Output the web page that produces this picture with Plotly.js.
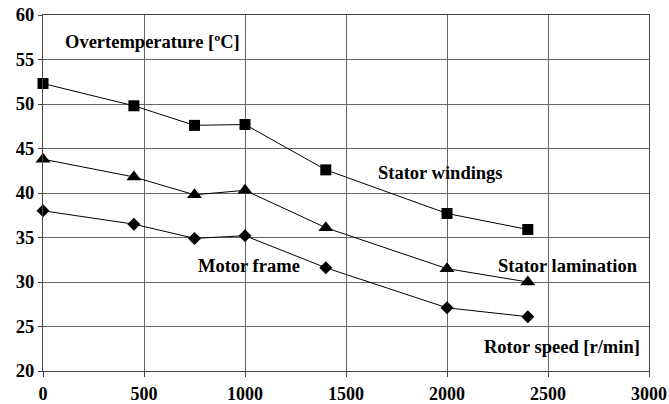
<!DOCTYPE html>
<html><head><meta charset="utf-8">
<script src="https://cdn.plot.ly/plotly-3.0.1.min.js"></script>
<style>html,body{margin:0;padding:0;background:#fff}#c{width:669px;height:404px}</style>
</head><body><div id="c"></div>
<script>
const speed = [0, 450, 750, 1000, 1400, 2000, 2400];
const statorWindings = [52.3, 49.8, 47.6, 47.7, 42.6, 37.7, 35.9];
const statorLamination = [43.8, 41.8, 39.8, 40.3, 36.1, 31.5, 30.0];
const motorFrame = [38.0, 36.5, 34.9, 35.2, 31.6, 27.1, 26.1];
const xTicks = [0, 500, 1000, 1500, 2000, 2500, 3000];
const yTicks = [20, 25, 30, 35, 40, 45, 50, 55, 60];

const F = 'Liberation Serif';
const FS = 18.5;
function tr(y, sym, size, name) {
  return {x: speed, y: y, name: name, type: 'scatter', mode: 'lines+markers',
    line: {color: '#000', width: 1},
    marker: {symbol: sym, size: size, color: '#000'}, cliponaxis: false};
}
const data = [
  tr(statorWindings, 'square', 11, 'Stator windings'),
  tr(statorLamination, 'triangle-up', 13, 'Stator lamination'),
  tr(motorFrame, 'diamond', 10, 'Motor frame')
];
function ann(text, x, y, xanchor) {
  return {text: '<b>' + text + '</b>', x: x, y: y, xref: 'x', yref: 'y', xanchor: xanchor || 'left', yanchor: 'middle',
    showarrow: false, font: {family: F, size: FS, color: '#000'}};
}
const layout = {
  width: 669, height: 404,
  margin: {l: 43, r: 20, t: 15, b: 33},
  paper_bgcolor: '#fff', plot_bgcolor: '#fff',
  showlegend: false,
  font: {family: F, size: FS, color: '#000'},
  xaxis: {range: [0, 3000], tickvals: xTicks, ticktext: xTicks.map(v => '<b>' + v + '</b>'),
    showgrid: true, gridcolor: '#666', gridwidth: 1, zeroline: false,
    showline: true, linecolor: '#444', linewidth: 1, mirror: true,
    ticks: 'outside', ticklen: 5, tickcolor: '#444', ticklabelstandoff: 1,
    tickfont: {family: F, size: 18, color: '#000'}},
  yaxis: {range: [20, 60], tickvals: yTicks, ticktext: yTicks.map(v => '<b>' + v + '</b>'),
    showgrid: true, gridcolor: '#666', gridwidth: 1, zeroline: false,
    showline: true, linecolor: '#444', linewidth: 1, mirror: true,
    ticks: 'outside', ticklen: 4, tickcolor: '#444',
    tickfont: {family: F, size: FS, color: '#000'}},
  annotations: [
    ann('Overtemperature [ºC]', 100, 57.0),
    ann('Stator windings', 1650, 42.3),
    ann('Motor frame', 755, 31.8),
    ann('Stator lamination', 2245, 31.8),
    ann('Rotor speed [r/min]', 2965, 22.7, 'right')
  ]
};
Plotly.newPlot('c', data, layout, {displayModeBar: false});
</script></body></html>
